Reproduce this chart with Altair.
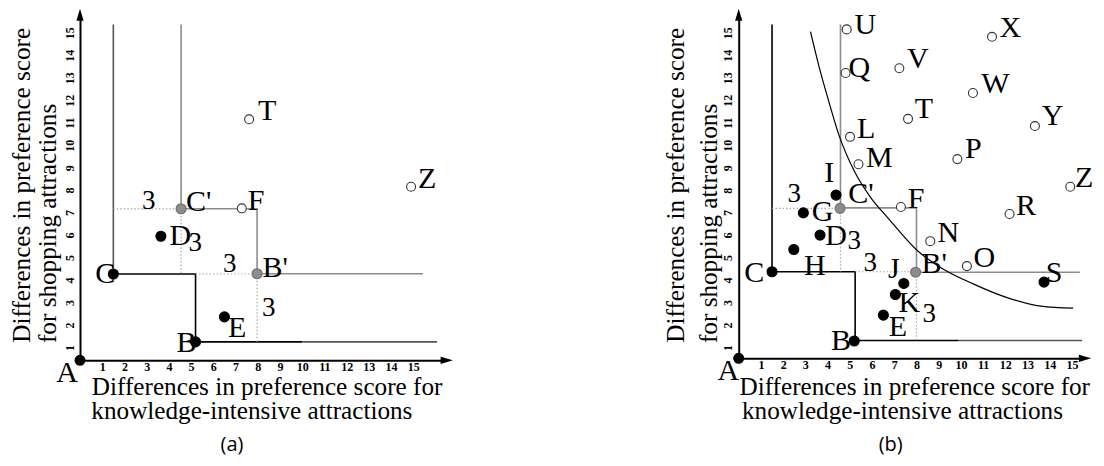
import altair as alt
import pandas as pd

TICKS = list(range(1, 16))
X_TITLE = ["Differences in preference score for", "knowledge-intensive attractions"]
Y_TITLE = ["Differences in preference score", "for shopping attractions"]

# ---------------- panel (a) ----------------
a_pt_name = ["A", "C", "B", "D", "E", "C'", "B'", "F", "T", "Z"]
a_pt_x = [0, 1.5, 5.2, 3.64, 6.5, 4.55, 7.97, 7.28, 7.61, 14.9]
a_pt_y = [0.43, 4.27, 1.25, 5.95, 2.36, 7.17, 4.28, 7.19, 11.15, 8.15]
a_pt_kind = ["black"] * 5 + ["gray"] * 2 + ["open"] * 3

a_lab_text = ["A", "C", "B", "C'", "F", "D", "B'", "E", "T", "Z", "3", "3", "3", "3"]
a_lab_x = [-0.58, 1.14, 4.79, 5.34, 7.93, 4.52, 8.79, 7.07, 8.42, 15.62, 3.09, 5.19, 6.74, 8.49]
a_lab_y = [-0.12, 4.28, 1.21, 7.47, 7.51, 5.96, 4.55, 1.88, 11.52, 8.48, 7.51, 5.66, 4.70, 2.77]

a_seg_id = ["cv", "cv", "st", "st", "st", "st", "bl", "bl", "gr", "gr", "gr", "gr", "gr"]
a_seg_x = [1.5, 1.5, 1.5, 5.2, 5.2, 10.0, 10.0, 16.07, 4.55, 4.55, 7.97, 7.97, 15.44]
a_seg_y = [4.27, 15.37, 4.27, 4.27, 1.25, 1.25, 1.25, 1.25, 15.37, 7.17, 7.17, 4.28, 4.28]

a_dot_id = ["d1", "d1", "d2", "d2", "d3", "d3", "d4", "d4"]
a_dot_x = [1.5, 4.55, 4.55, 4.55, 5.2, 7.97, 7.97, 7.97]
a_dot_y = [7.17, 7.17, 7.17, 4.27, 4.27, 4.27, 4.28, 1.25]

# ---------------- panel (b) ----------------
b_pt_name = ["A", "C", "B", "I", "G", "D", "H", "J", "K", "E", "S",
             "C'", "B'",
             "U", "Q", "V", "X", "W", "T", "Y", "L", "M", "P", "Z", "F", "R", "N", "O"]
b_pt_x = [0, 1.5, 5.2, 4.38, 2.91, 3.66, 2.48, 7.43, 7.05, 6.51, 13.74,
          4.56, 7.96,
          4.86, 4.81, 7.23, 11.40, 10.54, 7.62, 13.33, 5.01, 5.39, 9.84, 14.92, 7.30, 12.19, 8.62, 10.27]
b_pt_y = [0.52, 4.37, 1.29, 7.78, 6.99, 6.0, 5.36, 3.85, 3.36, 2.44, 3.91,
          7.19, 4.35,
          15.15, 13.21, 13.42, 14.82, 12.32, 11.17, 10.85, 10.37, 9.15, 9.38, 8.15, 7.25, 6.94, 5.73, 4.62]
b_pt_kind = ["black"] * 11 + ["gray"] * 2 + ["open"] * 15

b_lab_text = ["A", "C", "B", "I", "3", "G", "C'", "F", "D", "3", "H", "3", "J", "B'", "N", "O",
              "R", "K", "3", "E", "M", "U", "Q", "L", "X", "V", "W", "T", "Y", "P", "Z", "S"]
b_lab_x = [-0.47, 0.70, 4.60, 4.08, 2.50, 3.78, 5.50, 7.98, 4.38, 5.20, 3.43, 5.92, 6.98, 8.80, 9.43, 11.05,
           12.93, 7.68, 8.58, 7.16, 6.33, 5.70, 5.43, 5.73, 12.22, 8.06, 11.55, 8.33, 14.13, 10.56, 15.55, 14.19]
b_lab_y = [-0.05, 4.32, 1.29, 8.77, 7.81, 7.02, 7.81, 7.62, 5.96, 5.73, 4.62, 4.77, 4.48, 4.70, 6.10, 4.99,
           7.29, 2.99, 2.47, 1.91, 9.44, 15.33, 13.44, 10.70, 15.22, 13.82, 12.73, 11.59, 11.29, 9.81, 8.55, 4.32]

b_seg_id = ["cv", "cv", "st", "st", "st", "st", "bl", "bl", "gr", "gr", "gr", "gr", "gr"]
b_seg_x = [1.5, 1.5, 1.5, 5.24, 5.24, 9.9, 9.9, 15.45, 4.58, 4.58, 8.0, 8.0, 15.35]
b_seg_y = [4.37, 15.37, 4.37, 4.37, 1.31, 1.31, 1.31, 1.31, 15.37, 7.21, 7.21, 4.35, 4.35]

b_dot_id = ["d1", "d1", "d2", "d2", "d3", "d3", "d4", "d4"]
b_dot_x = [1.5, 4.58, 4.58, 4.58, 5.24, 8.0, 8.0, 8.0]
b_dot_y = [7.19, 7.19, 7.19, 4.37, 4.37, 4.37, 4.35, 1.31]

b_curve_x = [3.23, 3.63, 4.05, 4.50, 5.20, 5.95, 6.71, 8.06, 9.10, 10.60, 12.11, 13.60, 15.05]
b_curve_y = [15.05, 13.44, 11.96, 10.48, 8.85, 7.66, 6.77, 5.29, 4.55, 3.81, 3.21, 2.84, 2.75]

SEG_COLOR = {"cv": "#555555", "st": "#000000", "bl": "#555555", "gr": "#8c8c8c"}
SEG_COLOR_B = {"cv": "#000000", "st": "#000000", "bl": "#555555", "gr": "#8c8c8c"}
KIND_FILL = {"black": "#000000", "gray": "#8c8c8c", "open": "#ffffff"}
KIND_STROKE = {"black": "#000000", "gray": "#6e6e6e", "open": "#333333"}
KIND_SIZE = {"black": 100, "gray": 100, "open": 80}

UP = "M0,-0.85L0.5,0.8L-0.5,0.8Z"
RIGHT = "M0.9,0L-0.8,0.5L-0.8,-0.5Z"

SERIF = "Liberation Serif"
TITLE_FS = 25.2


def title_line(text, px, py, angle=0):
    # a title line anchored at its right (end) edge, in pixels relative to the plot
    kw = dict(font=SERIF, fontSize=TITLE_FS, align="right", baseline="alphabetic",
              color="black")
    if angle:
        kw["angle"] = angle
    return alt.Chart(pd.DataFrame({"t": [text]})).mark_text(**kw).encode(
        text="t:N", x=alt.value(px), y=alt.value(py))


def panel(pt_name, pt_x, pt_y, pt_kind, lab_text, lab_x, lab_y, seg_id, seg_x, seg_y,
          seg_colors, dot_id, dot_x, dot_y, xdom, ydom, w, h, caption,
          xt_end, yt_base, curve=None):
    xs = alt.Scale(domain=xdom, nice=False, zero=False)
    ys = alt.Scale(domain=ydom, nice=False, zero=False)
    xaxis = alt.Axis(values=TICKS, grid=False, ticks=False, tickSize=0, domainColor="black",
                     domainWidth=2, labelFont=SERIF, labelFontWeight="bold",
                     labelFontSize=12, labelColor="black", labelPadding=1, labelFlush=False,
                     labelOverlap=False, title=None)
    yaxis = alt.Axis(values=TICKS, grid=False, ticks=False, tickSize=0, domainColor="black",
                     domainWidth=2, labelAngle=270, labelAlign="center", labelBaseline="bottom",
                     labelFont=SERIF, labelFontWeight="bold", labelFontSize=12,
                     labelColor="black", labelPadding=4, labelFlush=False, labelOverlap=False,
                     title=None)

    def X(f):
        return alt.X(f, scale=xs, axis=xaxis)

    def Y(f):
        return alt.Y(f, scale=ys, axis=yaxis)

    segs = pd.DataFrame({"seg": seg_id, "x": seg_x, "y": seg_y})
    segs["i"] = range(len(segs))
    segs["col"] = [seg_colors[s] for s in seg_id]
    seg_layer = alt.Chart(segs).mark_line(strokeWidth=1.6).encode(
        x=X("x:Q"), y=Y("y:Q"), detail="seg:N", order="i:Q",
        color=alt.Color("col:N", scale=None))

    dots = pd.DataFrame({"seg": dot_id, "x": dot_x, "y": dot_y})
    dots["i"] = range(len(dots))
    dot_layer = alt.Chart(dots).mark_line(strokeWidth=1.2, color="#a8a8a8",
                                          strokeDash=[1.5, 2]).encode(
        x=X("x:Q"), y=Y("y:Q"), detail="seg:N", order="i:Q")

    labs = pd.DataFrame({"t": lab_text, "x": lab_x, "y": lab_y})
    labs["fs"] = [27 if t == "3" else 30 for t in lab_text]
    lab_layer = alt.Chart(labs).mark_text(font=SERIF, align="center",
                                          baseline="middle", color="black").encode(
        x=X("x:Q"), y=Y("y:Q"), text="t:N", size=alt.Size("fs:Q", scale=None))

    pts = pd.DataFrame({"name": pt_name, "x": pt_x, "y": pt_y, "kind": pt_kind})
    pts["fill"] = pts["kind"].map(KIND_FILL)
    pts["stroke"] = pts["kind"].map(KIND_STROKE)
    pts["size"] = pts["kind"].map(KIND_SIZE)
    pt_layer = alt.Chart(pts).mark_point(shape="circle", filled=True, opacity=1,
                                         strokeWidth=1.1).encode(
        x=X("x:Q"), y=Y("y:Q"),
        fill=alt.Fill("fill:N", scale=None), stroke=alt.Stroke("stroke:N", scale=None),
        size=alt.Size("size:Q", scale=None))

    arrows = pd.DataFrame({"x": [xdom[1], 0.0], "y": [ydom[0], ydom[1]],
                           "shape": [RIGHT, UP]})
    arrow_layer = alt.Chart(arrows).mark_point(filled=True, color="black", opacity=1,
                                               size=210).encode(
        x=X("x:Q"), y=Y("y:Q"), shape=alt.Shape("shape:N", scale=None))

    cap = alt.Chart(pd.DataFrame({"t": [caption]})).mark_text(
        font="Open Sans", fontSize=20, align="center", baseline="middle",
        color="black").encode(text="t:N", x=alt.value(152), y=alt.value(430))

    titles = [
        title_line(X_TITLE[0], xt_end[0], 379.8),
        title_line(X_TITLE[1], xt_end[1], 403.8),
        title_line(Y_TITLE[0], yt_base[0], 12.8, angle=270),
        title_line(Y_TITLE[1], yt_base[1], 88.8, angle=270),
    ]

    layers = [seg_layer, dot_layer]
    if curve is not None:
        cdf = pd.DataFrame({"x": curve[0], "y": curve[1]})
        layers.append(alt.Chart(cdf).mark_line(color="black", strokeWidth=1.2,
                                               interpolate="monotone").encode(
            x=X("x:Q"), y=Y("y:Q")))
    layers += [lab_layer, pt_layer, arrow_layer, cap] + titles
    return alt.layer(*layers).properties(width=w, height=h)


pa = panel(a_pt_name, a_pt_x, a_pt_y, a_pt_kind, a_lab_text, a_lab_x, a_lab_y,
           a_seg_id, a_seg_x, a_seg_y, SEG_COLOR, a_dot_id, a_dot_x, a_dot_y,
           [0, 16.49], [0.43, 15.79], 366.4, 345.3, "(a)",
           xt_end=(362.4, 332.4), yt_base=(-50.4, -24.4))
pb = panel(b_pt_name, b_pt_x, b_pt_y, b_pt_kind, b_lab_text, b_lab_x, b_lab_y,
           b_seg_id, b_seg_x, b_seg_y, SEG_COLOR_B, b_dot_id, b_dot_x, b_dot_y,
           [0, 15.57], [0.52, 15.79], 346, 343.3, "(b)",
           xt_end=(351.3, 324.3), yt_base=(-54.5, -22.0),
           curve=(b_curve_x, b_curve_y))

chart = alt.hconcat(pa, pb, spacing=291.7, bounds="flush").configure_view(
    stroke=None).properties(padding={"left": 1, "top": 0, "right": 0, "bottom": 2})

chart.save("out.html", embed_options={"renderer": "svg", "actions": False})
